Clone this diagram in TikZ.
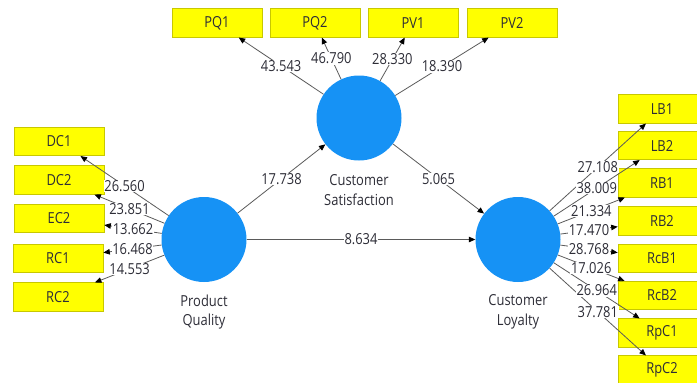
\documentclass[tikz,border=0pt]{standalone}
\usepackage{fontspec}
\setmainfont{Open Sans}[FakeStretch=0.85]
\usetikzlibrary{arrows.meta}
\definecolor{lvblue}{RGB}{22,146,245}
\definecolor{indfill}{RGB}{255,255,0}
\definecolor{indline}{RGB}{200,200,0}
\definecolor{linkgray}{RGB}{90,90,90}
\definecolor{txt}{RGB}{45,45,55}
\tikzset{
  latent/.style={circle, fill=lvblue, minimum size=85pt, inner sep=0pt},
  lvname/.style={align=center, text=txt, font=\fontsize{15.2}{19.5}\selectfont},
  indicator/.style={rectangle, fill=indfill, draw=indline, line width=0.6pt,
    minimum width=90pt, minimum height=28.5pt, inner sep=0pt, text=txt,
    font=\fontsize{15.2}{18}\selectfont},
  rindicator/.style={indicator, minimum width=88pt},
  link/.style={draw=linkgray, line width=0.8pt,
    -{Triangle[length=6.5pt,width=5.5pt,color=black]}},
  val/.style={fill=white, inner sep=0.6pt, text=txt,
    font=\fontsize{15.2}{18}\selectfont}
}
\begin{document}
\begin{tikzpicture}[x=1pt,y=-1pt]
\useasboundingbox (0,0) rectangle (697,383);
\begin{scope}
\clip (0,0) rectangle (697,383);

% latent variables
\node[latent] (CS) at (359,118) {};
\node[latent] (PQ) at (204,239.5) {};
\node[latent] (CL) at (518,239.5) {};
\node[lvname] (CSname) at (359,190) {Customer\\Satisfaction};
\node[lvname] (PQname) at (204,312) {Product\\Quality};
\node[lvname] (CLname) at (518,312) {Customer\\Loyalty};

% indicators of Customer Satisfaction
\node[indicator] (PQ1) at (217,23) {PQ1};
\node[indicator] (PQ2) at (315,23) {PQ2};
\node[indicator] (PV1) at (413,23) {PV1};
\node[indicator] (PV2) at (512,23) {PV2};

% indicators of Product Quality
\node[indicator] (DC1) at (59,141.5) {DC1};
\node[indicator] (DC2) at (59,180) {DC2};
\node[indicator] (EC2) at (59,218.5) {EC2};
\node[indicator] (RC1) at (58,258.5) {RC1};
\node[indicator] (RC2) at (58,297) {RC2};

% indicators of Customer Loyalty
\node[rindicator] (LB1) at (662,109) {LB1};
\node[rindicator] (LB2) at (662,145.5) {LB2};
\node[rindicator] (RB1) at (662,183) {RB1};
\node[rindicator] (RB2) at (662,221) {RB2};
\node[rindicator] (RcB1) at (662,258.5) {RcB1};
\node[rindicator] (RcB2) at (662,295.5) {RcB2};
\node[rindicator] (RpC1) at (662,333) {RpC1};
\node[rindicator] (RpC2) at (662,370) {RpC2};

% connectors
\foreach \t in {PQ1,PQ2,PV1,PV2} \draw[link] (CS) -- (\t);
\foreach \t in {DC1,DC2,EC2,RC1,RC2} \draw[link] (PQ) -- (\t);
\foreach \t in {LB1,LB2,RB1,RB2,RcB1,RcB2,RpC1,RpC2} \draw[link] (CL) -- (\t);
\draw[link] (PQ) -- (CS);
\draw[link] (CS) -- (CL);
\draw[link] (PQ) -- (CL);

% path coefficients and loadings
\foreach \t/\v in {PQ1/43.543,PQ2/46.790,PV1/28.330,PV2/18.390}
  \path (CS) -- (\t) node[midway,val] {\v};
\foreach \t/\v in {DC1/26.560,DC2/23.851,EC2/13.662,RC1/16.468,RC2/14.553}
  \path (PQ) -- (\t) node[midway,val] {\v};
\foreach \t/\v in {LB1/27.108,LB2/38.009,RB1/21.334,RB2/17.470,RcB1/28.768,RcB2/17.026,RpC1/26.964,RpC2/37.781}
  \path (CL) -- (\t) node[midway,val] {\v};
\path (PQ) -- (CS) node[midway,val] {17.738};
\path (CS) -- (CL) node[midway,val] {5.065};
\path (PQ) -- (CL) node[midway,val] {8.634};
\end{scope}
\end{tikzpicture}
\end{document}
